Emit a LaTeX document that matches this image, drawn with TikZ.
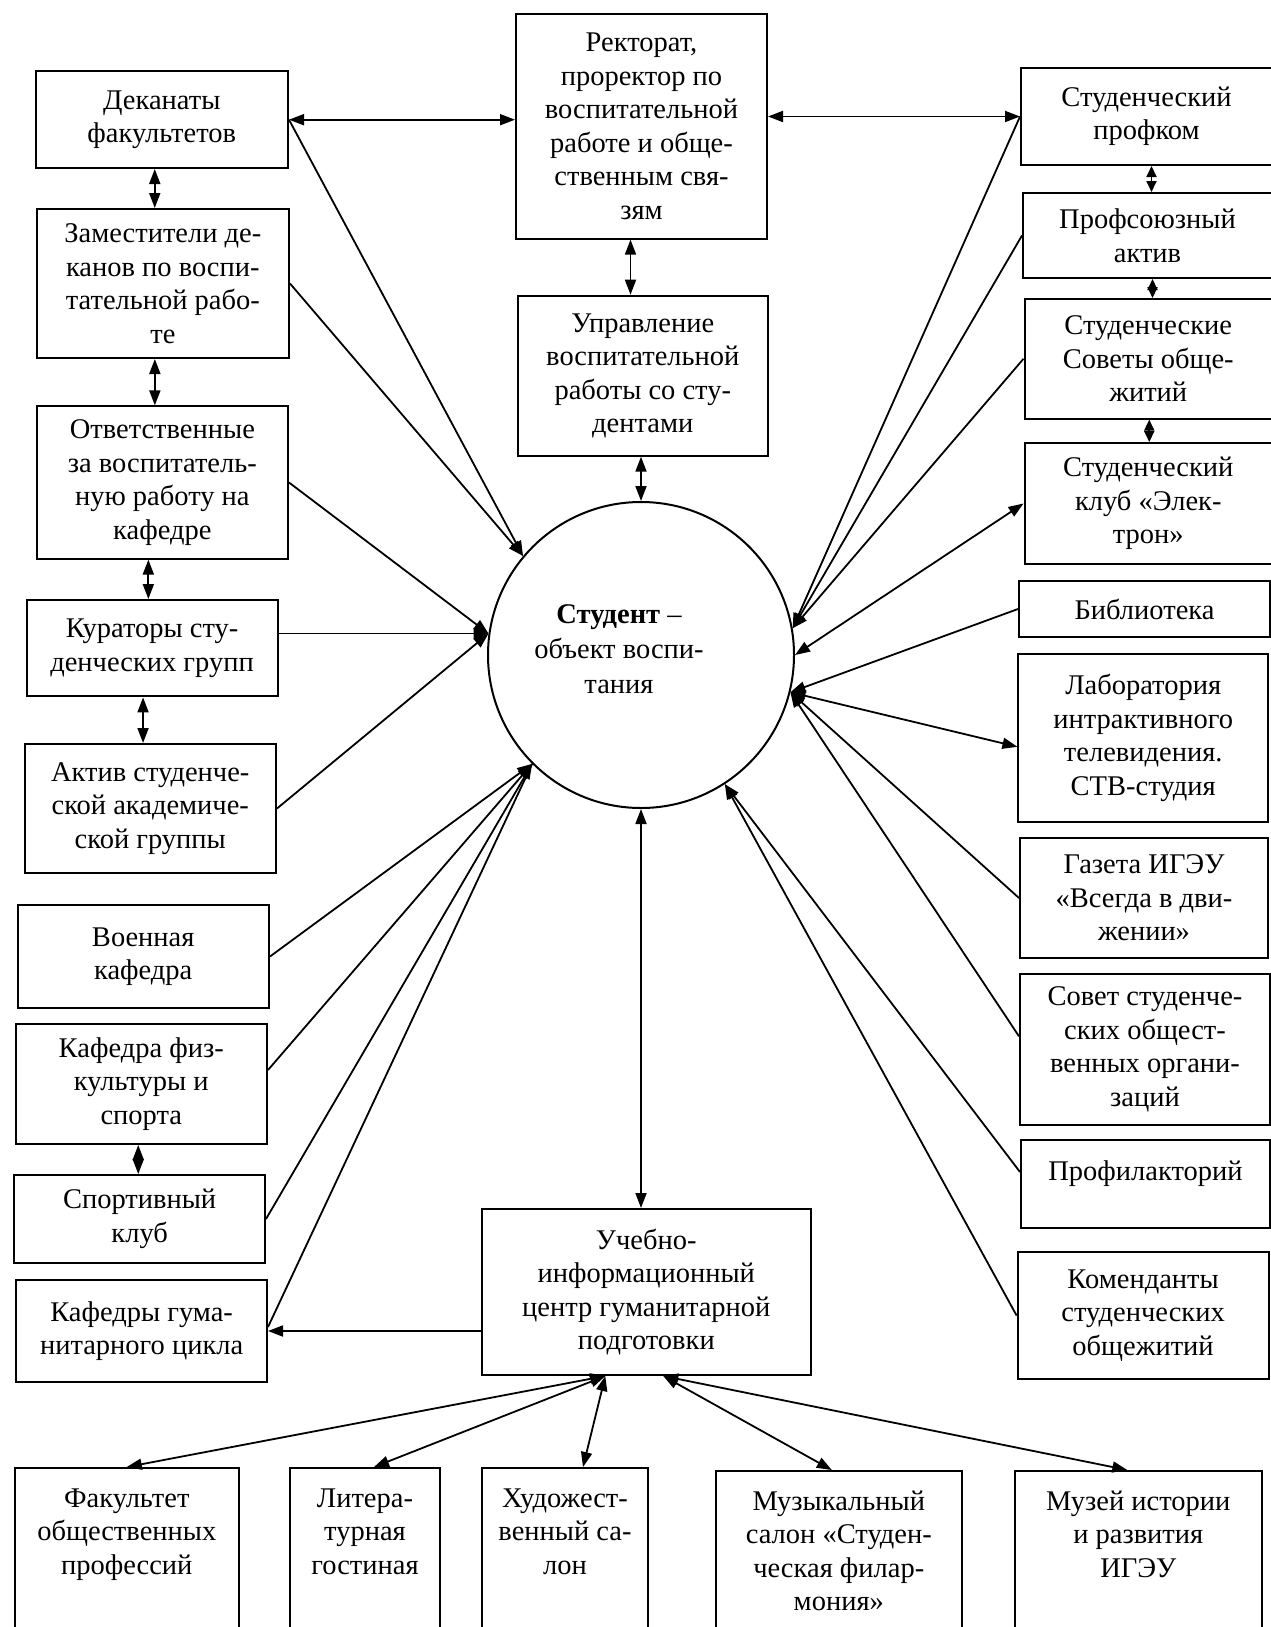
\documentclass[tikz,border=0pt]{standalone}
\usepackage{fontspec}
\setmainfont{Liberation Serif}
\usetikzlibrary{arrows.meta,calc}

\tikzset{
    blok/.style={draw,line width=2pt,align=center,inner sep=0pt,
        font=\fontsize{28.5}{33.5}\selectfont},
    krug/.style={draw,circle,line width=2pt,minimum size=306pt,inner sep=0pt},
    svyaz/.style={line width=1.8pt},
    dvustor/.style={svyaz,{Triangle[length=15pt,width=11pt]}-{Triangle[length=15pt,width=11pt]}},
    odnostor/.style={svyaz,-{Triangle[length=15pt,width=11pt]}},
    korotk/.style={svyaz,{Triangle[length=11pt,width=10pt]}-{Triangle[length=11pt,width=10pt]}},
}
% box given by its corners (px): [options] name, x1, y1, x2, y2, text
\newcommand{\blok}[7][]{%
    \node[blok,minimum width=#5pt-#3pt,minimum height=#6pt-#4pt,#1] (#2)
        at ({(#3+#5)/2},{(#4+#6)/2}) {#7};}

\begin{document}
\begin{tikzpicture}[x=1pt,y=-1pt]
    \path[fill=white,use as bounding box] (0,0) rectangle (1271,1627);

    % left column
    \blok{dek}{35.5}{71.4}{288}{168}{Деканаты\\факультетов}
    \blok{zam}{36.7}{209}{289}{358}{Заместители де-\\канов по воспи-\\тательной рабо-\\те}
    \blok{otv}{36.7}{406.4}{288}{558.6}{Ответственные\\за воспитатель-\\ную работу на\\кафедре}
    \blok{kur}{26.5}{600}{277.6}{696.4}{Кураторы сту-\\денческих групп}
    \blok{akt}{24.5}{744}{276}{873}{Актив студенче-\\ской академиче-\\ской группы}
    \blok{voen}{17.5}{905}{269}{1008}{Военная\\кафедра}
    \blok{fiz}{15.5}{1024}{267}{1144}{Кафедра физ-\\культуры и\\спорта}
    \blok{sport}{14.3}{1175}{265}{1263}{Спортивный\\клуб}
    \blok{gum}{16.3}{1280}{267}{1382}{Кафедры гума-\\нитарного цикла}

    % middle
    \blok{rek}{516}{13.6}{767}{238.6}{Ректорат,\\проректор по\\воспитательной\\работе и обще-\\ственным свя-\\зям}
    \blok{upr}{517.6}{295.7}{768}{455.7}{Управление\\воспитательной\\работы со сту-\\дентами}
    \node[krug] (stud) at (641,655) {};
    \node[font=\fontsize{28.5}{35}\selectfont,align=center] (studtxt) at (619,649)
        {\textbf{Студент} –\\объект воспи-\\тания};
    \blok{uch}{481.6}{1209}{811}{1375}{Учебно-\\информационный\\центр гуманитарной\\подготовки}

    % right column
    \blok{profkom}{1021}{68}{1272}{165}{Студенческий\\профком}
    \blok{profs}{1023}{193}{1272}{278}{Профсоюзный\\актив}
    \blok{sov}{1024.5}{299}{1272}{418.6}{Студенческие\\Советы обще-\\житий}
    \blok{klub}{1024.5}{443}{1272}{564}{Студенческий\\клуб «Элек-\\трон»}
    \blok{bib}{1019}{581}{1270}{637}{Библиотека}
    \blok{lab}{1018.4}{653.6}{1268}{822}{Лаборатория\\интрактивного\\телевидения.\\СТВ-студия}
    \blok{gaz}{1020}{838}{1268}{958}{Газета ИГЭУ\\«Всегда в дви-\\жении»}
    \blok{sovet}{1020}{974}{1270}{1124.6}{Совет студенче-\\ских общест-\\венных органи-\\заций}
    \blok[text height=40pt,text depth=48pt]{prof}{1021}{1140}{1270}{1228}{Профилакторий}
    \blok{kom}{1017.6}{1252}{1268.6}{1379}{Коменданты\\студенческих\\общежитий}

    % bottom row (runs off the page)
    \blok[text height=39pt,text depth=153pt]{fak}{14.6}{1468}{239}{1660}{\begin{tabular}[t]{@{}c@{}}Факультет\\общественных\\профессий\end{tabular}}
    \blok[text height=39pt,text depth=153pt]{lit}{290}{1468}{440}{1660}{\begin{tabular}[t]{@{}c@{}}Литера-\\турная\\гостиная\end{tabular}}
    \blok[text height=39pt,text depth=153pt]{hud}{482}{1468}{648}{1660}{\begin{tabular}[t]{@{}c@{}}Художест-\\венный са-\\лон\end{tabular}}
    \blok[text height=39pt,text depth=150pt]{muz}{715.6}{1471}{962}{1660}{\begin{tabular}[t]{@{}c@{}}Музыкальный\\салон «Студен-\\ческая филар-\\мония»\end{tabular}}
    \blok[text height=39pt,text depth=150pt]{muzey}{1014.6}{1471}{1262}{1660}{\begin{tabular}[t]{@{}c@{}}Музей истории\\и развития\\ИГЭУ\end{tabular}}

    % points on the circle where arrows meet
    \coordinate (tTL) at (stud.140);
    \coordinate (tL) at (stud.172);
    \coordinate (tBL) at (stud.225);
    \coordinate (tA) at (stud.10);
    \coordinate (tB) at (stud.0);
    \coordinate (tC) at (stud.-14);
    \coordinate (tD) at (stud.-57);
    \coordinate (uL) at ([xshift=-41pt]uch.south);
    \coordinate (uR) at ([xshift=17pt]uch.south);

    % left connectors
    \draw[dvustor] (dek.east) -- (dek.east -| rek.west);
    \draw[odnostor] (dek.east) -- (tTL);
    \draw[odnostor] (zam.east) -- (tTL);
    \draw[odnostor] (otv.east) -- (tL);
    \draw[odnostor] (tL -| kur.east) -- (tL);
    \draw[odnostor] (akt.east) -- (tL);
    \draw[odnostor] (voen.east) -- (tBL);
    \draw[odnostor] ([yshift=14pt]fiz.east) -- (tBL);
    \draw[odnostor] (sport.east) -- (tBL);
    \draw[svyaz] (tBL) -- ([yshift=4pt]gum.east);
    \draw[odnostor] (gum.east -| uch.west) -- (gum.east);
    \draw[dvustor] ([xshift=-7pt]dek.south) -- ([xshift=-7pt]dek.south |- zam.north);
    \draw[dvustor] ([xshift=-8pt]zam.south) -- ([xshift=-8pt]zam.south |- otv.north);
    \draw[dvustor] ([xshift=-14pt]otv.south) -- ([xshift=-14pt]otv.south |- kur.north);
    \draw[dvustor] ([xshift=-9pt]kur.south) -- ([xshift=-9pt]kur.south |- akt.north);
    \draw[dvustor] ([xshift=-3pt]fiz.south) -- ([xshift=-3pt]fiz.south |- sport.north);

    % middle connectors
    \draw[dvustor] ([xshift=-11pt]rek.south) -- ([xshift=-11pt]rek.south |- upr.north);
    \draw[dvustor] (stud.north |- upr.south) -- (stud.north);
    \draw[dvustor] (stud.south) -- (stud.south |- uch.north);
    \draw[dvustor] (rek.east |- profkom.west) -- (profkom.west);

    % right connectors
    \draw[odnostor] (profkom.west) -- (tA);
    \draw[odnostor] (profs.west) -- (tA);
    \draw[odnostor] (sov.west) -- (tA);
    \draw[dvustor] (tB) -- (klub.west);
    \draw[odnostor] (bib.west) -- (tC);
    \draw[dvustor] (tC) -- ([yshift=-9pt]lab.west);
    \draw[odnostor] (gaz.west) -- (tC);
    \draw[odnostor] ([yshift=13pt]sovet.west) -- (tC);
    \draw[odnostor] ([yshift=12pt]prof.west) -- (tD);
    \draw[odnostor] (kom.west) -- (tD);
    \draw[korotk] ([xshift=5pt]profkom.south) -- ([xshift=5pt]profkom.south |- profs.north);
    \draw[korotk] ([xshift=5pt]profs.south) -- ([xshift=5pt]profs.south |- sov.north);
    \draw[korotk] ([xshift=1pt]sov.south) -- ([xshift=1pt]sov.south |- klub.north);

    % bottom connectors
    \draw[dvustor] (uL) -- (fak.north);
    \draw[dvustor] (uL) -- ([xshift=9pt]lit.north);
    \draw[dvustor] (uL) -- ([xshift=18pt]hud.north);
    \draw[dvustor] (uR) -- ([xshift=-7pt]muz.north);
    \draw[dvustor] (uR) -- ([xshift=-11pt]muzey.north);
\end{tikzpicture}
\end{document}
